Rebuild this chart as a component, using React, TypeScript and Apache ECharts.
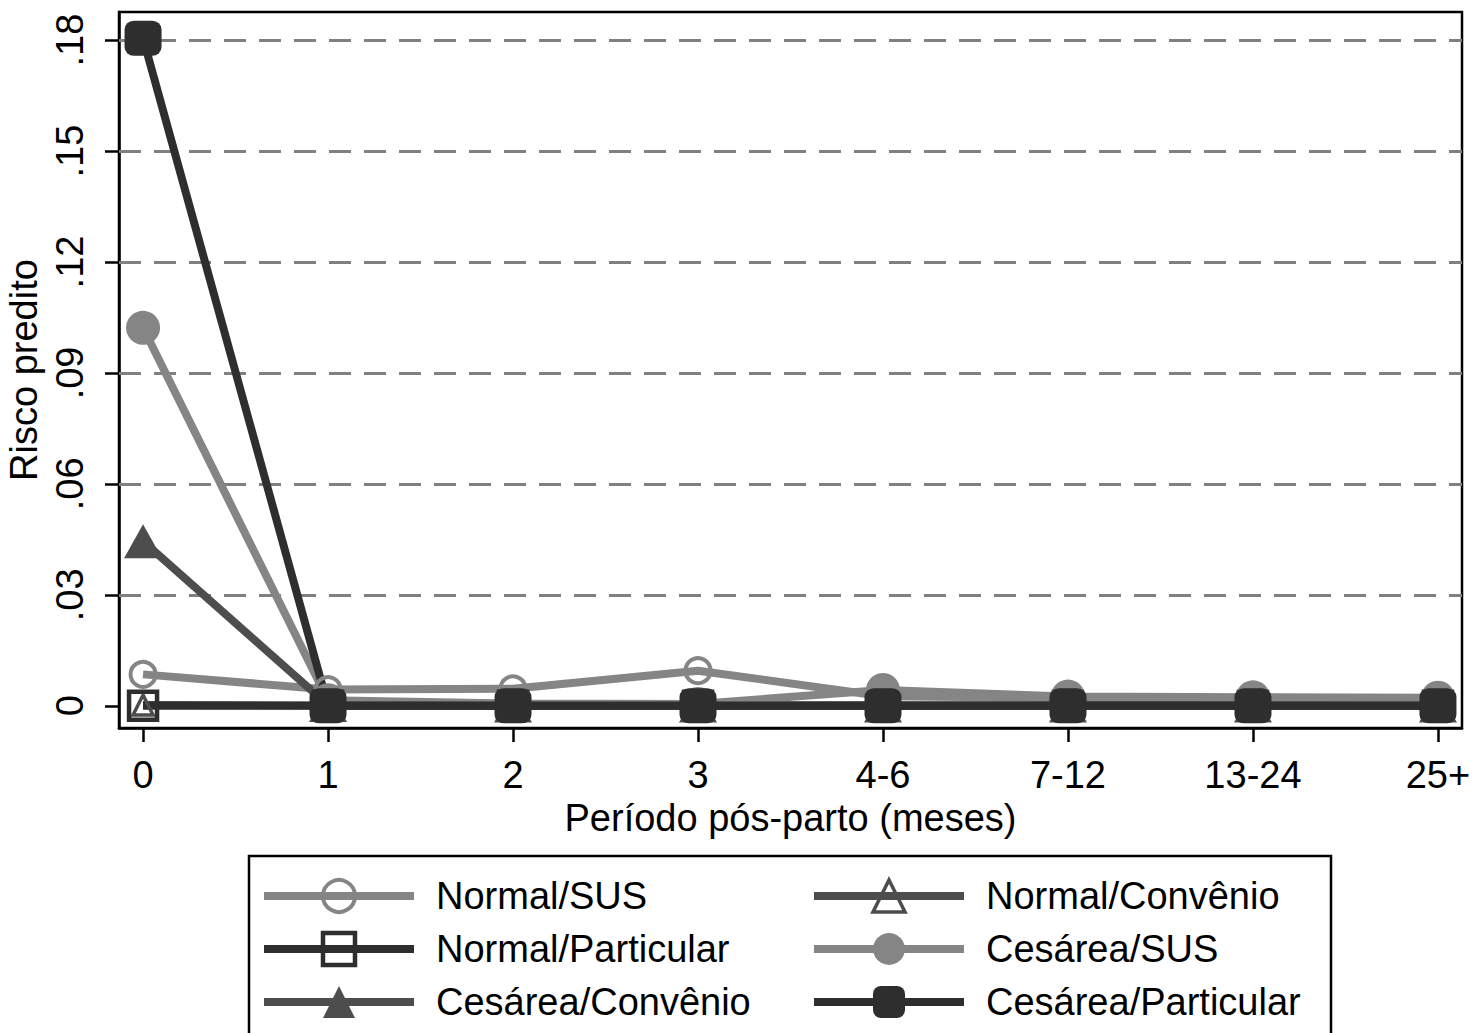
import React, { useEffect, useRef } from "react";
import * as echarts from "echarts";

const categories = ["0", "1", "2", "3", "4-6", "7-12", "13-24", "25+"];
const yTicks = [0, 0.03, 0.06, 0.09, 0.12, 0.15, 0.18];
const gridValues = [0.03, 0.06, 0.09, 0.12, 0.15, 0.18];

const normalSUS = [0.0085, 0.0044, 0.0046, 0.0095, 0.0026, 0.0021, 0.0021, 0.0021];
const normalConvenio = [0.0002, 0.0001, 0.0001, 0.0001, 0.0001, 0.0001, 0.0001, 0.0001];
const normalParticular = [0.0, 0.0, 0.0, 0.0, 0.0, 0.0, 0.0, 0.0];
const cesareaSUS = [0.1022, 0.0015, 0.0006, 0.0005, 0.0043, 0.0025, 0.0023, 0.0022];
const cesareaConvenio = [0.0445, 0.0002, 0.0001, 0.0001, 0.0001, 0.0001, 0.0001, 0.0001];
const cesareaParticular = [0.1805, 0.0, 0.0, 0.0, 0.0, 0.0, 0.0, 0.0];

const FONT = "'Liberation Sans', Arial, sans-serif";
const LIGHT = "#858585";
const MID = "#4d4d4d";
const DARK = "#2e2e2e";

function pts(arr: number[]) {
  return arr.map((v, i) => [i, v]);
}

export default function App() {
  const ref = useRef<HTMLDivElement>(null);
  useEffect(() => {
    if (!ref.current) return;
    const chart = echarts.init(ref.current, undefined, { renderer: "svg" });
    const hollowStyle = (color: string, bw: number) => ({ color: "rgba(0,0,0,0)", borderColor: color, borderWidth: bw });
    const filledStyle = (color: string) => ({ color, borderWidth: 0 });
    const mkSeries = (name: string, data: number[], color: string, symbol: string, size: any, hollow: boolean, bw = 4) => ({
      name,
      type: "line",
      data: pts(data),
      symbol,
      symbolSize: size,
      showAllSymbol: true,
      lineStyle: { color, width: 8 },
      itemStyle: hollow ? hollowStyle(color, bw) : filledStyle(color),
      emphasis: { disabled: true },
      z: 3,
    });
    const legItem = (name: string, color: string, hollow: boolean, bw = 4) => ({
      name,
      itemStyle: hollow ? hollowStyle(color, bw) : filledStyle(color),
      lineStyle: { color, width: 8, cap: "butt" },
    });
    const legendCommon = {
      orient: "vertical",
      itemWidth: 150,
      itemHeight: 40,
      itemGap: 15,
      padding: 0,
      top: 877,
      selectedMode: false,
      textStyle: { fontFamily: FONT, fontSize: 38, color: "#000", padding: [0, 0, 0, 17] },
    };
    chart.setOption({
      animation: false,
      backgroundColor: "#fff",
      grid: {
        left: 119,
        top: 12,
        right: 14,
        bottom: 305,
        outerBoundsMode: "none",
        containLabel: false,
        show: true,
        borderColor: "#000",
        borderWidth: 2.5,
        backgroundColor: "transparent",
      },
      xAxis: {
        type: "value",
        min: -0.13,
        max: 7.13,
        name: "Período pós-parto (meses)",
        nameLocation: "middle",
        nameGap: 62,
        nameTextStyle: { fontFamily: FONT, fontSize: 38, color: "#000" },
        axisLine: { show: true, onZero: false, lineStyle: { color: "#000", width: 2.5 } },
        axisTick: { show: true, inside: false, customValues: [0, 1, 2, 3, 4, 5, 6, 7], length: 14, lineStyle: { color: "#000", width: 2.5 } },
        axisLabel: {
          customValues: [0, 1, 2, 3, 4, 5, 6, 7],
          formatter: (v: number) => categories[Math.round(v)] ?? "",
          fontFamily: FONT,
          fontSize: 38,
          color: "#000",
          margin: 28,
        },
        splitLine: { show: false },
      },
      yAxis: {
        type: "value",
        min: -0.006,
        max: 0.1876,
        name: "Risco predito",
        nameLocation: "middle",
        nameGap: 69,
        nameTextStyle: { fontFamily: FONT, fontSize: 38, color: "#000" },
        axisLine: { show: true, onZero: false, lineStyle: { color: "#000", width: 2.5 } },
        axisTick: { show: true, inside: false, customValues: yTicks, length: 14, lineStyle: { color: "#000", width: 2.5 } },
        axisLabel: {
          customValues: yTicks,
          rotate: 90,
          formatter: (v: number) => (Math.abs(v) < 1e-9 ? "0" : "." + String(Math.round(v * 100)).padStart(2, "0")),
          fontFamily: FONT,
          fontSize: 38,
          color: "#000",
          margin: 30,
        },
        splitLine: { show: false },
      },
      legend: [
        {
          ...legendCommon,
          left: 260,
          data: [
            legItem("Normal/SUS", LIGHT, true, 4),
            legItem("Normal/Particular", DARK, true, 4.5),
            legItem("Cesárea/Convênio", MID, false),
          ],
        },
        {
          ...legendCommon,
          left: 810,
          data: [
            legItem("Normal/Convênio", MID, true, 3.5),
            legItem("Cesárea/SUS", LIGHT, false),
            legItem("Cesárea/Particular", DARK, false),
          ],
        },
      ],
      graphic: [
        {
          type: "rect",
          shape: { x: 249, y: 856, width: 1082, height: 220 },
          style: { fill: "none", stroke: "#000", lineWidth: 2.5 },
          silent: true,
        },
      ],
      series: [
        {
          name: "grid",
          type: "line",
          data: [],
          silent: true,
          z: 1,
          markLine: {
            silent: true,
            symbol: "none",
            z: 1,
            label: { show: false },
            lineStyle: { color: "#808080", width: 3, type: [22, 13] },
            data: gridValues.map((v) => ({ yAxis: v })),
            emphasis: { disabled: true },
          },
        },
        mkSeries("Normal/SUS", normalSUS, LIGHT, "circle", 25, true, 4),
        mkSeries("Normal/Convênio", normalConvenio, MID, "triangle", 20, true, 3.5),
        mkSeries("Normal/Particular", normalParticular, DARK, "rect", 28, true, 4.5),
        mkSeries("Cesárea/SUS", cesareaSUS, LIGHT, "circle", 34, false),
        mkSeries("Cesárea/Convênio", cesareaConvenio, MID, "triangle", [38, 34], false),
        mkSeries("Cesárea/Particular", cesareaParticular, DARK, "roundRect", [37, 35], false),
      ],
    });
    return () => chart.dispose();
  }, []);
  return <div ref={ref} style={{ position: "fixed", left: 0, top: 0, width: 1476, height: 1033 }} />;
}
